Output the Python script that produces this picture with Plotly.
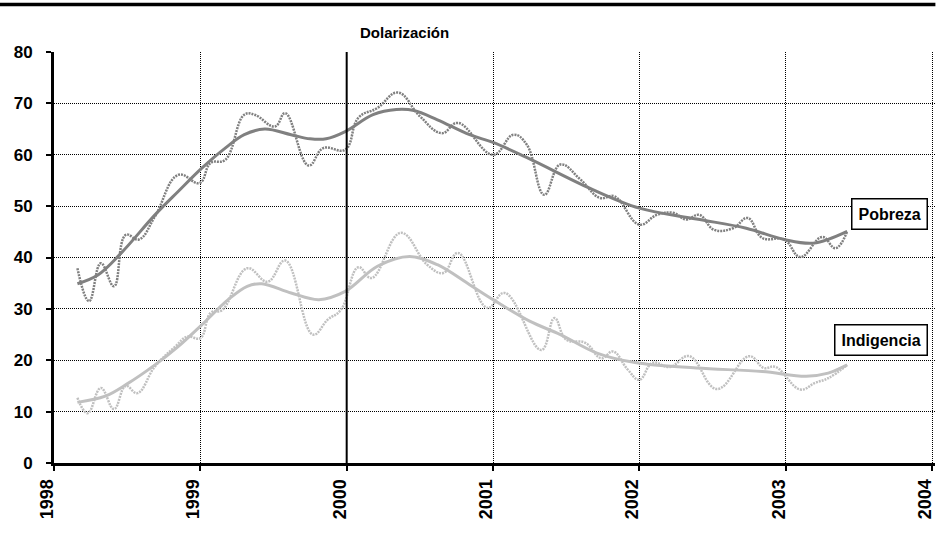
import plotly.graph_objects as go

# Pobreza raw (dotted)
pob_x = [1998.16, 1998.24, 1998.32, 1998.41, 1998.49, 1998.58, 1998.69, 1998.85, 1998.995, 1999.07,
         1999.17, 1999.30, 1999.37, 1999.51, 1999.58, 1999.74, 1999.84, 1999.99, 2000.08, 2000.21,
         2000.35, 2000.50, 2000.65, 2000.76, 2001.00, 2001.14, 2001.23, 2001.35, 2001.46, 2001.60,
         2001.73, 2001.83, 2002.00, 2002.12, 2002.23, 2002.32, 2002.41, 2002.51, 2002.64, 2002.74,
         2002.84, 2002.99, 2003.10, 2003.25, 2003.34, 2003.42]
pob_y = [37.9, 31.5, 38.9, 34.4, 44.4, 43.5, 48.0, 56.1, 54.5, 58.4,
         59.0, 67.8, 67.8, 65.5, 68.1, 57.9, 61.3, 61.0, 67.2, 69.1,
         72.1, 67.5, 64.2, 66.2, 60.0, 63.9, 62.0, 52.2, 58.1, 55.1,
         51.6, 51.9, 46.4, 48.3, 48.7, 47.4, 48.3, 45.4, 45.7, 47.7,
         43.8, 43.5, 40.1, 44.0, 41.8, 45.1]

# Pobreza trend (solid)
pobt_x = [1998.16, 1998.30, 1998.46, 1998.69, 1998.85, 1999.01, 1999.17, 1999.30, 1999.44, 1999.62,
          1999.75, 1999.86, 1999.99, 2000.18, 2000.34, 2000.46, 2000.62, 2000.84, 2001.00, 2001.25,
          2001.66, 2002.00, 2002.39, 2002.73, 2002.99, 2003.19, 2003.42]
pobt_y = [34.9, 36.6, 40.9, 48.3, 52.9, 57.4, 61.3, 63.9, 65.0, 63.9,
          63.1, 63.1, 64.5, 67.8, 68.8, 68.6, 66.8, 63.9, 62.4, 59.2,
          53.5, 49.6, 47.5, 45.7, 43.5, 42.8, 45.1]

# Indigencia raw (dotted)
ind_x = [1998.16, 1998.23, 1998.32, 1998.41, 1998.49, 1998.57, 1998.69, 1998.83, 1998.91, 1999.00,
         1999.07, 1999.15, 1999.32, 1999.46, 1999.58, 1999.77, 1999.87, 1999.96, 2000.08, 2000.17,
         2000.37, 2000.55, 2000.66, 2000.76, 2000.96, 2001.08, 2001.33, 2001.42, 2001.50, 2001.63,
         2001.74, 2001.82, 2001.92, 2002.00, 2002.09, 2002.21, 2002.34, 2002.53, 2002.75, 2002.85,
         2002.93, 2003.10, 2003.20, 2003.29, 2003.42]
ind_y = [12.7, 9.7, 14.6, 10.5, 15.0, 13.6, 18.8, 22.7, 24.6, 24.3,
         29.2, 29.8, 37.9, 35.3, 39.4, 25.0, 27.9, 29.8, 38.1, 36.0,
         44.8, 38.6, 37.0, 40.9, 30.2, 33.1, 22.0, 28.2, 24.0, 23.4,
         20.4, 21.7, 18.2, 16.2, 19.5, 18.7, 20.8, 14.4, 20.8, 18.5,
         18.7, 14.3, 15.6, 16.5, 19.1]

# Indigencia trend (solid)
indt_x = [1998.16, 1998.35, 1998.50, 1998.69, 1998.85, 1999.01, 1999.19, 1999.32, 1999.42, 1999.62,
          1999.81, 1999.99, 2000.21, 2000.43, 2000.62, 2000.84, 2001.00, 2001.25, 2001.46, 2001.71,
          2001.98, 2002.39, 2002.84, 2003.14, 2003.29, 2003.42]
indt_y = [11.8, 13.0, 15.4, 19.1, 22.7, 26.9, 31.8, 34.4, 34.9, 33.1,
          31.8, 33.4, 38.3, 40.2, 38.6, 34.7, 31.8, 27.6, 25.0, 21.4,
          19.5, 18.5, 17.8, 16.9, 17.5, 19.1]

year_ticks = [1998, 1999, 2000, 2001, 2002, 2003, 2004]
y_ticks = [0, 10, 20, 30, 40, 50, 60, 70, 80]

FONT = "Liberation Sans, Arial, Helvetica, sans-serif"
DARK = "#808080"
LIGHT = "#c0c0c0"

W, H = 939, 541
L, T, B = 54, 52, 78
XR = [1998, 2004.02]
plot_w = 146.28 * (XR[1] - XR[0])
R = W - L - plot_w
plot_h = H - T - B

fig = go.Figure()
fig.add_trace(go.Scatter(x=pob_x, y=pob_y, mode="lines",
                         line=dict(color=DARK, width=2.5, dash="2px,1px", shape="spline", smoothing=1.2)))
fig.add_trace(go.Scatter(x=pobt_x, y=pobt_y, mode="lines",
                         line=dict(color=DARK, width=3, shape="spline", smoothing=1.0)))
fig.add_trace(go.Scatter(x=ind_x, y=ind_y, mode="lines",
                         line=dict(color=LIGHT, width=2.5, dash="2px,1px", shape="spline", smoothing=1.2)))
fig.add_trace(go.Scatter(x=indt_x, y=indt_y, mode="lines",
                         line=dict(color=LIGHT, width=3, shape="spline", smoothing=1.0)))

fig.update_layout(
    width=W, height=H,
    margin=dict(l=L, r=R, t=T, b=B, autoexpand=False),
    paper_bgcolor="white", plot_bgcolor="white",
    showlegend=False,
    font=dict(family=FONT, color="black"),
    xaxis=dict(range=XR, tickvals=year_ticks, ticktext=[f"<b>{v}</b>" for v in year_ticks],
               tickangle=-90, tickfont=dict(size=18, family=FONT),
               showgrid=True, gridcolor="black", gridwidth=1, griddash="1px,1px",
               showline=True, linecolor="black", linewidth=3,
               ticks="outside", ticklen=5, tickcolor="black", tickwidth=2,
               ticklabelstandoff=1, ticklabelshift=-7, ticklabeloverflow="allow", automargin=False,
               zeroline=False),
    yaxis=dict(range=[0, 80], tickvals=y_ticks, ticktext=[f"<b>{v}</b>" for v in y_ticks],
               tickfont=dict(size=17, family=FONT),
               showgrid=True, gridcolor="black", gridwidth=1, griddash="1px,1px",
               showline=True, linecolor="black", linewidth=3,
               ticks="outside", ticklen=5, tickcolor="black", tickwidth=2,
               ticklabelstandoff=10, ticklabeloverflow="allow", automargin=False,
               zeroline=False),
)

# vertical line at Dolarización
fig.add_shape(type="line", xref="x", yref="y", x0=2000, x1=2000, y0=0, y1=80,
              line=dict(color="black", width=2))
# top rule
fig.add_shape(type="line", xref="paper", yref="paper", x0=-L / plot_w, x1=(935 - L) / plot_w,
              y0=(H - B - 4.5) / plot_h, y1=(H - B - 4.5) / plot_h,
              line=dict(color="black", width=3.5))

fig.add_annotation(x=2000.396, y=(H - B - 33) / plot_h, xref="x", yref="paper", yanchor="middle",
                   text="<b>Dolarización</b>",
                   showarrow=False, font=dict(size=15, family=FONT, color="black"))
fig.add_annotation(x=2003.972, y=48.5, xref="x", yref="y", xanchor="right", yanchor="middle",
                   text="<b>Pobreza</b>",
                   showarrow=False, font=dict(size=16, family=FONT, color="black"),
                   bordercolor="black", borderwidth=1.5, borderpad=6, bgcolor="white")
fig.add_annotation(x=2003.972, y=24.0, xref="x", yref="y", xanchor="right", yanchor="middle",
                   text="<b>Indigencia</b>",
                   showarrow=False, font=dict(size=16, family=FONT, color="black"),
                   bordercolor="black", borderwidth=1.5, borderpad=6, bgcolor="white")

fig.write_html("out.html", config={"displayModeBar": False},
               post_script="document.body.style.margin='0';document.body.style.overflow='hidden';")
